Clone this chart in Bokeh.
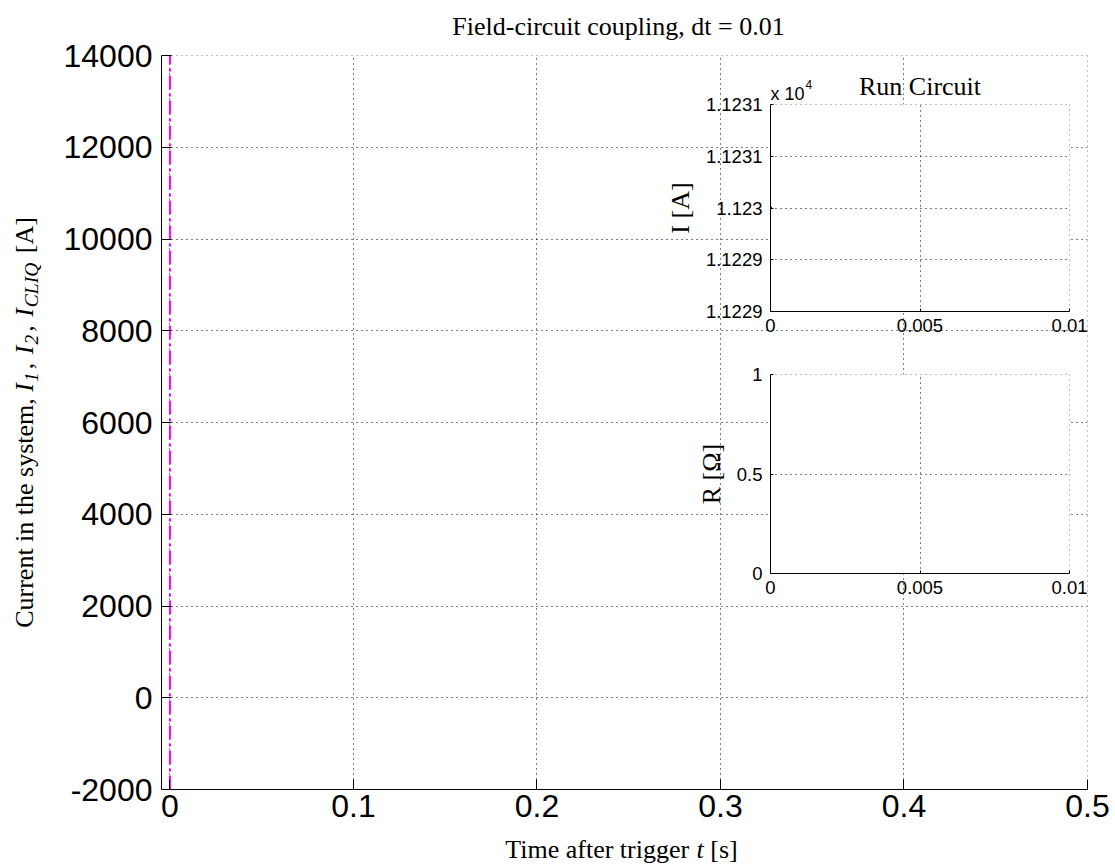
import math
from bokeh.plotting import figure
from bokeh.models import Range1d, FixedTicker, Label, Span
from bokeh.layouts import column
from bokeh.embed import file_html
from bokeh.resources import INLINE

# ---------------- data ----------------
title_text = "Field-circuit coupling, dt = 0.01"
trigger_t = [0.0, 0.0]
trigger_I = [-2000.0, 14000.0]
main_x_ticks = [0.0, 0.1, 0.2, 0.3, 0.4, 0.5]
main_x_labels = ["0", "0.1", "0.2", "0.3", "0.4", "0.5"]
main_y_ticks = [-2000, 0, 2000, 4000, 6000, 8000, 10000, 12000, 14000]
main_y_labels = ["-2000", "0", "2000", "4000", "6000", "8000", "10000", "12000", "14000"]

run_t = [0.0]
run_I = [11230.0]
run_R = [0.0]
inset_x_ticks = [0.0, 0.005, 0.01]
inset_x_labels = ["0", "0.005", "0.01"]
run_I_ticks = [11229.0, 11229.5, 11230.0, 11230.5, 11231.0]
run_I_labels = ["1.1229", "1.1229", "1.123", "1.1231", "1.1231"]
run_R_ticks = [0.0, 0.5, 1.0]
run_R_labels = ["0", "0.5", "1"]

# ---------------- style ----------------
SERIF = "Liberation Serif"
SANS = "Liberation Sans"
SERIF_PX = 26
GRID_DASH = "1 4"

# Times-compatible advance widths (per 1000 em) for composite labels
REG = {' ': 250, ',': 250, '[': 333, ']': 333, 'A': 722, 'C': 667, 'T': 611,
       'a': 444, 'c': 444, 'e': 444, 'f': 333, 'g': 500, 'h': 500, 'i': 278,
       'm': 778, 'n': 500, 'r': 333, 's': 389, 't': 278, 'u': 500, 'y': 500}
ITA = {'I': 333, 't': 278, 'C': 667, 'L': 556, 'Q': 722, '1': 500, '2': 500}


def text_w(s, italic, size):
    tab = ITA if italic else REG
    return sum(tab.get(ch, 500) for ch in s) / 1000.0 * size


W, H = 1115, 864
FL, FR, FT, FB = 161, 1087, 55, 789          # main frame (pixels)
IL, IR = 770, 1069                            # inset frames (pixels)
X0, X1 = -0.0046, 0.5
Y0, Y1 = main_y_ticks[0], main_y_ticks[-1]


def style_axes(fig, tick_px, tick_in, x_standoff, y_standoff):
    for ax in list(fig.xaxis) + list(fig.yaxis):
        ax.axis_line_color = "black"
        ax.axis_line_width = 1
        ax.major_tick_line_color = "black"
        ax.major_tick_in = tick_in
        ax.major_tick_out = 0
        ax.minor_tick_line_color = None
        ax.major_label_text_font = SANS
        ax.major_label_text_font_size = tick_px
        ax.major_label_text_color = "black"
        ax.axis_label_text_font = SERIF
        ax.axis_label_text_font_size = f"{SERIF_PX}px"
        ax.axis_label_text_font_style = "normal"
        ax.axis_label_text_color = "black"
    fig.xaxis.major_label_standoff = x_standoff
    fig.yaxis.major_label_standoff = y_standoff
    fig.grid.grid_line_color = "black"
    fig.grid.grid_line_dash = GRID_DASH
    fig.grid.grid_line_width = 1
    fig.outline_line_color = None


# ---------------- main figure ----------------
p = figure(width=W, height=H, x_range=Range1d(X0, X1), y_range=Range1d(Y0, Y1),
           output_backend="svg", toolbar_location=None, title=None,
           min_border_left=FL, min_border_right=W - FR,
           min_border_top=FT, min_border_bottom=H - FB)
p.background_fill_color = "white"
p.border_fill_color = "white"
p.xaxis.ticker = FixedTicker(ticks=main_x_ticks)
p.yaxis.ticker = FixedTicker(ticks=main_y_ticks)
p.xaxis.major_label_overrides = dict(zip(main_x_ticks, main_x_labels))
p.yaxis.major_label_overrides = dict(zip(main_y_ticks, main_y_labels))
style_axes(p, "32px", 10, 5, 9)

# grid lines at the upper / right limits (MATLAB draws them)
p.add_layout(Span(location=main_y_ticks[-1], dimension="width", line_color="black",
                  line_dash=GRID_DASH, line_width=1))
p.add_layout(Span(location=main_x_ticks[-1], dimension="height", line_color="black",
                  line_dash=GRID_DASH, line_width=1))

p.line(trigger_t, trigger_I, line_color="#ff00ff", line_width=2, line_dash="14 4 3 4")


# ---------------- insets ----------------
def make_inset(top, height, frame_top, frame_bottom, y_lo, y_hi, yticks, ylabels, ylabel):
    left = IL - FL
    width = IR + (W - FR) - left
    f = figure(width=width, height=height,
               x_range=Range1d(inset_x_ticks[0], inset_x_ticks[-1]),
               y_range=Range1d(y_lo, y_hi), output_backend="svg", toolbar_location=None,
               title=None,
               min_border_left=FL, min_border_right=W - FR,
               min_border_top=frame_top - top, min_border_bottom=top + height - frame_bottom,
               styles={"position": "absolute", "left": f"{left}px", "top": f"{top}px"})
    f.background_fill_color = "white"
    f.background_fill_alpha = 1.0
    f.border_fill_alpha = 0.0
    f.xaxis.ticker = FixedTicker(ticks=inset_x_ticks)
    f.yaxis.ticker = FixedTicker(ticks=yticks)
    f.xaxis.major_label_overrides = dict(zip(inset_x_ticks, inset_x_labels))
    f.yaxis.major_label_overrides = dict(zip(yticks, ylabels))
    style_axes(f, "18.5px", 3, 7, 8)
    f.yaxis.axis_label = ylabel
    f.yaxis.axis_label_standoff = 8
    f.add_layout(Span(location=yticks[-1], dimension="width", line_color="black",
                      line_dash=GRID_DASH, line_width=1))
    f.add_layout(Span(location=inset_x_ticks[-1], dimension="height", line_color="black",
                      line_dash=GRID_DASH, line_width=1))
    return f


ins1 = make_inset(60, 290, 104, 311, run_I_ticks[0], run_I_ticks[-1],
                  run_I_ticks, run_I_labels, "I [A]")
ins1.line(run_t, run_I, line_color="blue", line_width=1)
ins1.scatter(run_t, run_I, size=2, color="blue", marker="square")

ins2 = make_inset(340, 270, 374, 573, run_R_ticks[0], run_R_ticks[-1],
                  run_R_ticks, run_R_labels, "R [\u03a9]")
ins2.line(run_t, run_R, line_color="blue", line_width=1)

# ---------------- text overlay (pixel coordinates, origin top-left) ----------------
ov = figure(width=W, height=H, x_range=Range1d(0, W), y_range=Range1d(H, 0),
            output_backend="svg", toolbar_location=None, title=None,
            x_axis_type=None, y_axis_type=None,
            min_border_left=0, min_border_right=0, min_border_top=0, min_border_bottom=0,
            styles={"position": "absolute", "left": "0px", "top": "0px"})
ov.background_fill_alpha = 0.0
ov.border_fill_alpha = 0.0
ov.outline_line_color = None
ov.grid.visible = False


def ov_label(x, y, text, font=SERIF, size=SERIF_PX, style="normal", align="left", angle=0.0):
    ov.add_layout(Label(x=x, y=y, text=text, text_font=font, text_font_size=f"{size:.1f}px",
                        text_font_style=style, text_align=align, text_baseline="alphabetic",
                        angle=angle, text_color="black"))


def seg_advance(s, it, size):
    """Return (leading-space advance, visible text, text advance)."""
    stripped = s.lstrip(" ")
    lead = text_w(" " * (len(s) - len(stripped)), False, size)
    return lead, stripped, text_w(stripped, it, size)


# main title
ov_label((FL + FR) / 2 - 6, 26, title_text, align="center")

# x-axis label: "Time after trigger t [s]"
xl_segments = [("Time after trigger ", False), ("t", True), (" [s]", False)]
xl_total = sum(text_w(s, it, SERIF_PX) for s, it in xl_segments)
pos = (FL + FR) / 2 - 3 - xl_total / 2
for s, it in xl_segments:
    lead, vis, adv = seg_advance(s, it, SERIF_PX)
    pos += lead
    ov_label(pos, 849, vis, style="italic" if it else "normal")
    pos += adv

# y-axis label: "Current in the system, I_1, I_2, I_CLIQ [A]"
SUB = 0.75
yl_segments = [("Current in the system, ", False, 1.0, 0), ("I", True, 1.0, 0),
               ("1", True, SUB, 1), (", ", False, 1.0, 0), ("I", True, 1.0, 0),
               ("2", True, SUB, 1), (", ", False, 1.0, 0), ("I", True, 1.0, 0),
               ("CLIQ", True, SUB, 1), (" [A]", False, 1.0, 0)]
gaps = [0, 1, 3, 2, 1, 3, 2, 1, 3, 0]
yl_total = sum(text_w(s, it, SERIF_PX * sc) for s, it, sc, _ in yl_segments) + sum(gaps)
pos = (FT + FB) / 2 + yl_total / 2
for (s, it, sc, sub), g in zip(yl_segments, gaps):
    lead, vis, adv = seg_advance(s, it, SERIF_PX * sc)
    pos -= lead
    ov_label(24 + 7 * sub, pos, vis, size=SERIF_PX * sc, style="italic" if it else "normal",
             angle=math.pi / 2)
    pos -= adv + g

# inset title and exponent
ov_label((IL + IR) / 2, 86, "Run Circuit", align="center")
ov_label(IL, 93, "x 10", font=SANS, size=18)
ov_label(IL + 35, 84, "4", font=SANS, size=12)

layout = column(p, ins1, ins2, styles={"position": "relative"})

open("out.html", "w").write(file_html([layout, ov], INLINE))
